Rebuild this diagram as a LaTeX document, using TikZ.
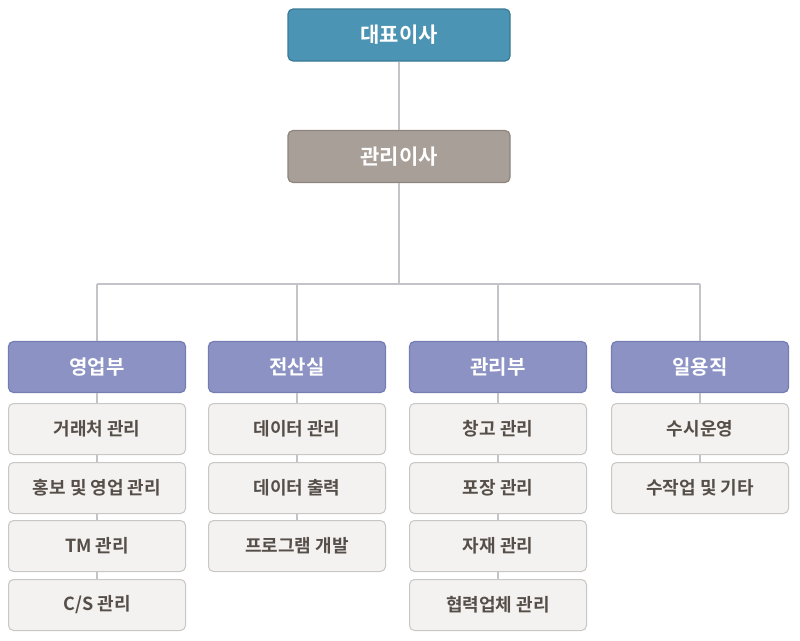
\documentclass[tikz,border=0pt]{standalone}
\usepackage{fontspec}
\newfontfamily\kr{Noto Sans CJK KR}[BoldFont={* Bold}]
\definecolor{ceo}{HTML}{4C94B3}
\definecolor{ceoB}{HTML}{3A7A97}
\definecolor{mgr}{HTML}{A89F98}
\definecolor{mgrB}{HTML}{8E847D}
\definecolor{dept}{HTML}{8C93C4}
\definecolor{deptB}{HTML}{767DB3}
\definecolor{sub}{HTML}{F3F2F0}
\definecolor{subB}{HTML}{C9C7C4}
\definecolor{subT}{HTML}{564E48}
\definecolor{ln}{HTML}{C4C4C8}
\tikzset{
  top/.style={draw=#1, line width=1.2pt, rounded corners=5pt, minimum width=222pt, minimum height=52pt, inner sep=0pt, text=white, font=\kr\bfseries\fontsize{21}{21}\selectfont},
  deptbox/.style={draw=deptB, fill=dept, line width=1.2pt, rounded corners=5pt, minimum width=177pt, minimum height=51pt, inner sep=0pt, text=white, font=\kr\bfseries\fontsize{20}{20}\selectfont},
  subbox/.style={draw=subB, fill=sub, line width=1pt, rounded corners=5pt, minimum width=177pt, minimum height=51pt, inner sep=0pt, text=subT, font=\kr\bfseries\fontsize{18}{18}\selectfont},
  conn/.style={draw=ln, line width=1.3pt}
}
\begin{document}
\begin{tikzpicture}[x=1pt,y=-1pt]
\useasboundingbox (0,0) rectangle (800,640);
\node[top=ceoB, fill=ceo] (ceo) at (399,35) {대표이사};
\node[top=mgrB, fill=mgr] (mgr) at (399,156.5) {관리이사};
\coordinate (hub) at (399,284);
\coordinate (h1) at (97,284);
\coordinate (h2) at (297,284);
\coordinate (h3) at (498,284);
\coordinate (h4) at (700,284);
\node[deptbox] (d1) at (97,367) {영업부};
\node[deptbox] (d2) at (297,367) {전산실};
\node[deptbox] (d3) at (498,367) {관리부};
\node[deptbox] (d4) at (700,367) {일용직};
\node[subbox] (a1) at (97,429) {거래처 관리};
\node[subbox] (a2) at (97,488) {홍보 및 영업 관리};
\node[subbox] (a3) at (97,546) {TM 관리};
\node[subbox] (a4) at (97,605) {C/S 관리};
\node[subbox] (b1) at (297,429) {데이터 관리};
\node[subbox] (b2) at (297,488) {데이터 출력};
\node[subbox] (b3) at (297,546) {프로그램 개발};
\node[subbox] (c1) at (498,429) {창고 관리};
\node[subbox] (c2) at (498,488) {포장 관리};
\node[subbox] (c3) at (498,546) {자재 관리};
\node[subbox] (c4) at (498,605) {협력업체 관리};
\node[subbox] (e1) at (700,429) {수시운영};
\node[subbox] (e2) at (700,488) {수작업 및 기타};
\draw[conn] (ceo.south) -- (mgr.north);
\draw[conn] (mgr.south) -- (hub);
\draw[conn] (h1) -- (h4);
\draw[conn] (h1) -- (d1.north);
\draw[conn] (h2) -- (d2.north);
\draw[conn] (h3) -- (d3.north);
\draw[conn] (h4) -- (d4.north);
\draw[conn] (d1.south) -- (a1.north);
\draw[conn] (a1.south) -- (a2.north);
\draw[conn] (a2.south) -- (a3.north);
\draw[conn] (a3.south) -- (a4.north);
\draw[conn] (d2.south) -- (b1.north);
\draw[conn] (b1.south) -- (b2.north);
\draw[conn] (b2.south) -- (b3.north);
\draw[conn] (d3.south) -- (c1.north);
\draw[conn] (c1.south) -- (c2.north);
\draw[conn] (c2.south) -- (c3.north);
\draw[conn] (c3.south) -- (c4.north);
\draw[conn] (d4.south) -- (e1.north);
\draw[conn] (e1.south) -- (e2.north);
\end{tikzpicture}
\end{document}
